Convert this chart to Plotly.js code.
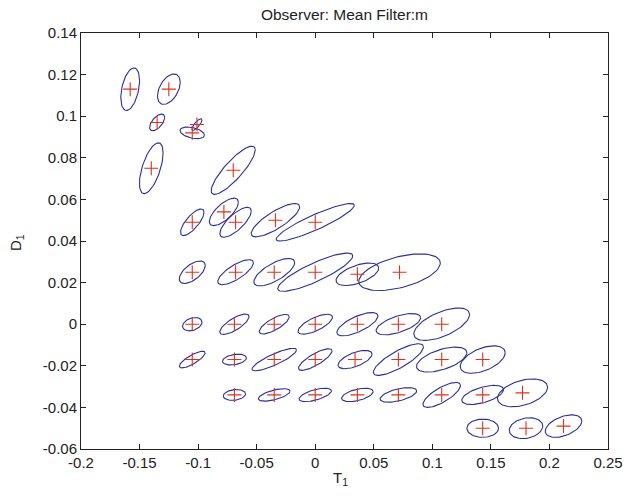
<!DOCTYPE html>
<html>
<head>
<meta charset="utf-8">
<script src="https://cdn.plot.ly/plotly-3.0.1.min.js"></script>
<style>html,body{margin:0;padding:0;background:#fff;}#chart{width:626px;height:498px;}</style>
</head>
<body>
<div id="chart"></div>
<script>
// Estimated points (red +) and ellipse shape parameters (half extents and correlation)
const pointT = [-0.158,-0.125,-0.135,-0.105,-0.101,-0.140,-0.070,
  -0.105,-0.078,-0.068,-0.034,0.000,
  -0.105,-0.068,-0.035,0.000,0.036,0.072,
  -0.105,-0.069,-0.035,0.000,0.036,0.071,0.108,
  -0.105,-0.069,-0.035,0.000,0.034,0.071,0.108,0.143,
  -0.069,-0.035,0.000,0.036,0.071,0.108,0.143,0.177,
  0.143,0.180,0.212];
const pointD = [0.113,0.113,0.097,0.092,0.096,0.075,0.074,
  0.049,0.054,0.049,0.050,0.049,
  0.025,0.025,0.025,0.025,0.024,0.025,
  0.000,0.000,0.000,0.000,0.000,0.000,0.000,
  -0.017,-0.017,-0.017,-0.017,-0.017,-0.017,-0.017,-0.017,
  -0.034,-0.034,-0.034,-0.034,-0.034,-0.034,-0.034,-0.033,
  -0.050,-0.050,-0.049];
const ellSpreadT = [0.0080,0.0097,0.0064,0.0104,0.0043,0.0101,0.0188,
  0.0100,0.0124,0.0134,0.0207,0.0333,
  0.0111,0.0152,0.0174,0.0320,0.0182,0.0348,
  0.0083,0.0125,0.0128,0.0147,0.0175,0.0190,0.0238,
  0.0110,0.0102,0.0190,0.0143,0.0145,0.0214,0.0215,0.0192,
  0.0095,0.0135,0.0138,0.0135,0.0156,0.0160,0.0178,0.0214,
  0.0135,0.0143,0.0156];
const ellSpreadD = [0.0102,0.0073,0.0040,0.0028,0.0028,0.0122,0.0116,
  0.0064,0.0066,0.0072,0.0080,0.0090,
  0.0054,0.0060,0.0066,0.0092,0.0054,0.0088,
  0.0032,0.0049,0.0047,0.0048,0.0056,0.0051,0.0078,
  0.0040,0.0026,0.0054,0.0052,0.0044,0.0076,0.0060,0.0066,
  0.0026,0.0030,0.0032,0.0032,0.0035,0.0060,0.0046,0.0067,
  0.0044,0.0050,0.0054];
const ellRho = [0.4,0.45,0.6,-0.4,0.8,0.6,0.85,
  0.75,0.7,0.75,0.8,0.9,
  0.6,0.75,0.7,0.85,0.55,0.5,
  0.3,0.75,0.75,0.7,0.7,0.6,0.6,
  0.8,0.3,0.85,0.8,0.6,0.8,0.55,0.5,
  0.2,0.6,0.6,0.5,0.55,0.75,0.55,0.4,
  0.0,0.2,0.45];
const xTickVals = [-0.2,-0.15,-0.1,-0.05,0,0.05,0.1,0.15,0.2,0.25];
const xTickText = ['-0.2','-0.15','-0.1','-0.05','0','0.05','0.1','0.15','0.2','0.25'];
const yTickVals = [-0.06,-0.04,-0.02,0,0.02,0.04,0.06,0.08,0.1,0.12,0.14];
const yTickText = ['-0.06','-0.04','-0.02','0','0.02','0.04','0.06','0.08','0.1','0.12','0.14'];
const titleText = 'Observer: Mean Filter:m';
const xLabel = 'T<sub>1</sub>';
const yLabel = 'D<sub>1</sub>';

// Build ellipse outlines from the parameters
const ex = [], ey = [];
const N = 72;
for (let i = 0; i < pointT.length; i++) {
  const r = ellRho[i], q = Math.sqrt(1 - r*r);
  for (let k = 0; k <= N; k++) {
    const t = 2*Math.PI*k/N;
    ex.push(pointT[i] + ellSpreadT[i]*Math.cos(t));
    ey.push(pointD[i] + ellSpreadD[i]*(r*Math.cos(t) + q*Math.sin(t)));
  }
  ex.push(null); ey.push(null);
}

const traces = [
  {x: ex, y: ey, mode: 'lines', type: 'scatter', line: {color: '#2b2f9c', width: 1.1}, hoverinfo: 'skip', connectgaps: false},
  {x: pointT, y: pointD, mode: 'markers', type: 'scatter',
   marker: {symbol: 'cross-thin', size: 10, line: {color: '#e0301c', width: 1.1}}}
];

const fam = 'Liberation Sans, Arial, sans-serif';
const axisFont = {family: fam, size: 15, color: '#222'};
const layout = {
  width: 626, height: 498,
  margin: {l: 81, r: 18, t: 33, b: 49},
  paper_bgcolor: '#fff', plot_bgcolor: '#fff',
  showlegend: false,
  title: {text: titleText, font: {family: fam, size: 15.5, color: '#222'},
          xref: 'paper', x: 0.5, xanchor: 'center', yref: 'container', y: 1 - 15/498, yanchor: 'middle'},
  xaxis: {range: [-0.2, 0.25], tickmode: 'array', tickvals: xTickVals, ticktext: xTickText,
          ticks: 'inside', ticklen: 5, tickcolor: '#222', showline: true, linecolor: '#222', linewidth: 1,
          mirror: 'ticks', showgrid: false, zeroline: false, tickfont: axisFont},
  yaxis: {range: [-0.06, 0.14], tickmode: 'array', tickvals: yTickVals, ticktext: yTickText,
          ticks: 'inside', ticklen: 5, tickcolor: '#222', showline: true, linecolor: '#222', linewidth: 1,
          mirror: 'ticks', showgrid: false, zeroline: false, tickfont: axisFont},
  annotations: [
    {text: xLabel, xref: 'paper', yref: 'paper', x: (340-81)/527, y: (449-478)/416,
     xanchor: 'center', yanchor: 'middle', showarrow: false, font: axisFont},
    {text: yLabel, xref: 'paper', yref: 'paper', x: (16-81)/527, y: (449-243)/416,
     xanchor: 'center', yanchor: 'middle', textangle: -90, showarrow: false, font: axisFont}
  ]
};

Plotly.newPlot('chart', traces, layout, {displayModeBar: false, staticPlot: true});
</script>
</body>
</html>
